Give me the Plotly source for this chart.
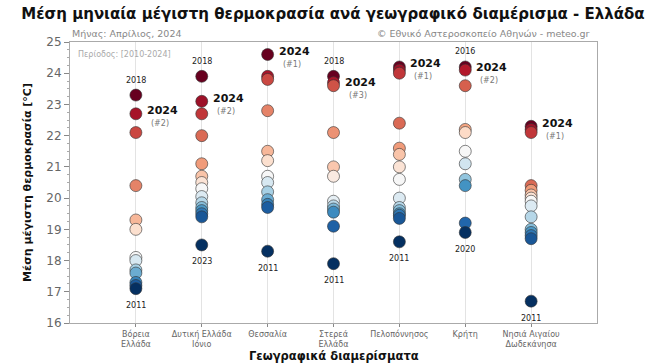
import numpy as np
import plotly.graph_objects as go

regions = ["Βόρεια<br>Ελλάδα", "Δυτική Ελλάδα<br>Ιόνιο", "Θεσσαλία", "Στερεά<br>Ελλάδα",
           "Πελοπόννησος", "Κρήτη", "Νησιά Αιγαίου<br>Δωδεκάνησα"]

vals_voreia = [23.3, 22.7, 22.1, 20.4, 19.3, 19.0, 18.1, 18.0, 17.7, 17.6, 17.3, 17.2, 17.1]
vals_dytiki = [23.9, 23.1, 22.7, 22.0, 21.1, 20.7, 20.5, 20.3, 20.05, 19.85, 19.7, 19.6, 19.5, 19.4, 18.5]
vals_thessalia = [24.6, 23.9, 23.8, 22.8, 21.5, 21.2, 20.7, 20.5, 20.2, 19.95, 19.8, 19.7, 18.3]
vals_sterea = [23.9, 23.7, 23.6, 22.1, 21.0, 20.7, 19.9, 19.75, 19.65, 19.55, 19.1, 17.9]
vals_pelop = [24.2, 24.1, 24.0, 22.4, 21.6, 21.4, 21.0, 20.6, 20.0, 19.7, 19.6, 19.5, 19.45, 19.35, 18.6]
vals_kriti = [24.2, 24.1, 23.6, 22.2, 22.1, 21.5, 21.1, 20.6, 20.4, 19.2, 18.9]
vals_nisia = [22.3, 22.2, 22.1, 20.4, 20.25, 20.1, 20.0, 19.9, 19.75, 19.4, 19.0, 18.9, 18.8, 18.7, 16.7]

all_vals = [vals_voreia, vals_dytiki, vals_thessalia, vals_sterea, vals_pelop, vals_kriti, vals_nisia]

val_2024 = [22.7, 23.1, 24.6, 23.6, 24.2, 24.1, 22.3]
top_year = ["2018", "2018", None, "2018", None, "2016", None]
bottom_year = ["2011", "2023", "2011", "2011", "2011", "2020", "2011"]

rdbu = ['rgb(5,48,97)', 'rgb(33,102,172)', 'rgb(67,147,195)', 'rgb(146,197,222)',
        'rgb(209,229,240)', 'rgb(247,247,247)', 'rgb(253,219,199)', 'rgb(244,165,130)',
        'rgb(214,96,77)', 'rgb(178,24,43)', 'rgb(103,0,31)']
cscale = [[i / 10, c] for i, c in enumerate(rdbu)]

FONT = "DejaVu Sans"
fig = go.Figure()

for i, vals in enumerate(all_vals):
    v = np.array(vals, dtype=float)
    order = np.argsort(-v)            # highest first
    ranks = np.empty(len(v))
    ranks[order] = np.arange(len(v))
    cval = 1 - ranks / (len(v) - 1)
    idx = np.argsort(-v)
    fig.add_trace(go.Scatter(
        x=[regions[i]] * len(v), y=v[idx], mode="markers",
        marker=dict(size=12, color=cval[idx], colorscale=cscale, cmin=0, cmax=1,
                    line=dict(color="rgba(50,50,50,0.75)", width=0.8)),
        showlegend=False, hoverinfo="y"))
    vmax, vmin = v.max(), v.min()
    if top_year[i]:
        fig.add_annotation(x=i, y=vmax, text=top_year[i], showarrow=False,
                           yshift=15, font=dict(family=FONT, size=8, color="#222"))
    fig.add_annotation(x=i, y=vmin, text=bottom_year[i], showarrow=False,
                       yshift=-17, font=dict(family=FONT, size=8, color="#222"))
    rank24 = 1 + int(np.sum(v > val_2024[i]))
    fig.add_annotation(x=i, y=val_2024[i], text="<b>2024</b>", showarrow=False,
                       xanchor="left", xshift=9, yshift=3,
                       font=dict(family=FONT, size=11, color="#111"))
    fig.add_annotation(x=i, y=val_2024[i], text=f"(#{rank24})", showarrow=False,
                       xanchor="left", xshift=13, yshift=-10,
                       font=dict(family=FONT, size=8, color="#777"))

fig.add_annotation(xref="paper", yref="paper", x=0.0, y=1.032, xanchor="left",
                   yanchor="middle", text="Μήνας: Απρίλιος, 2024", showarrow=False,
                   font=dict(family=FONT, size=9.5, color="#888"))
fig.add_annotation(xref="paper", yref="paper", x=0.99, y=1.032, xanchor="right",
                   yanchor="middle", text="© Εθνικό Αστεροσκοπείο Αθηνών - meteo.gr",
                   showarrow=False, font=dict(family=FONT, size=9.5, color="#888"))
fig.add_annotation(xref="paper", yref="paper", x=0.012, y=0.957, xanchor="left",
                   yanchor="middle", text="Περίοδος: [2010-2024]", showarrow=False,
                   font=dict(family=FONT, size=8, color="#aaa"))
fig.add_annotation(xref="paper", yref="paper", x=0.5, y=-0.1459, xanchor="center",
                   yanchor="bottom", text="<b>Γεωγραφικά διαμερίσματα</b>", showarrow=False,
                   borderpad=0, font=dict(family=FONT, size=11.5, color="#111"))

fig.update_layout(
    width=666, height=364,
    margin=dict(l=70, r=69, t=42, b=41),
    paper_bgcolor="white", plot_bgcolor="white",
    title=dict(text="<b>Μέση μηνιαία μέγιστη θερμοκρασία ανά γεωγραφικό διαμέρισμα - Ελλάδα</b>",
               x=0.5, xanchor="center", y=0.963, yanchor="middle",
               font=dict(family=FONT, size=15, color="#111")),
    font=dict(family=FONT),
)
fig.update_xaxes(type="category", categoryorder="array", categoryarray=regions,
                 range=[-1, 7], showgrid=True, gridcolor="#e3e3e3", gridwidth=1,
                 showline=True, linecolor="#aaa", mirror=True, ticks="outside",
                 ticklen=3, tickcolor="#888", tickfont=dict(family=FONT, size=8, color="#666"),
                 zeroline=False)
fig.update_yaxes(range=[16, 25], dtick=1, showgrid=False, showline=True, linecolor="#aaa",
                 mirror=True, ticks="outside", ticklen=5, tickcolor="#888",
                 minor=dict(dtick=0.25, ticks="outside", ticklen=2, tickcolor="#aaa"),
                 tickfont=dict(family=FONT, size=12, color="#666"), zeroline=False,
                 title=dict(text="<b>Μέση μέγιστη θερμοκρασία [°C]</b>",
                            font=dict(family=FONT, size=11, color="#111"), standoff=12))

fig.write_html("out.html", config={"displayModeBar": False},
               post_script="document.body.style.margin='0';")
